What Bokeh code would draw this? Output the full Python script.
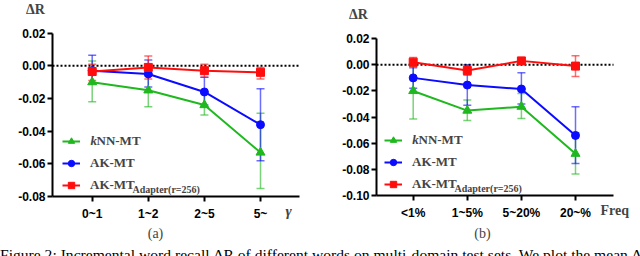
from bokeh.plotting import figure
from bokeh.layouts import row, column
from bokeh.models import (ColumnDataSource, Whisker, TeeHead, Legend, LegendItem,
                          Label, FixedTicker, NumeralTickFormatter, Div)
from bokeh.core.properties import value
from bokeh.embed import file_html
from bokeh.resources import INLINE

# ---------------- data ----------------
cats_a = ["0~1", "1~2", "2~5", "5~"]
knn_a = [-0.010, -0.015, -0.024, -0.053]
knn_a_lo = [-0.022, -0.025, -0.030, -0.075]
knn_a_hi = [0.003, -0.006, -0.017, -0.029]
ak_a = [-0.003, -0.005, -0.016, -0.036]
ak_a_lo = [-0.011, -0.013, -0.024, -0.058]
ak_a_hi = [0.0065, 0.0035, -0.007, -0.014]
ad_a = [-0.0035, -0.001, -0.003, -0.004]
ad_a_lo = [-0.009, -0.008, -0.007, -0.008]
ad_a_hi = [0.001, 0.006, 0.001, -0.001]
yticks_a = [-0.08, -0.06, -0.04, -0.02, 0.0, 0.02]

cats_b = ["<1%", "1~5%", "5~20%", "20~%"]
knn_b = [-0.020, -0.035, -0.032, -0.068]
knn_b_lo = [-0.0415, -0.0425, -0.041, -0.0835]
knn_b_hi = [-0.001, -0.027, -0.022, -0.052]
ak_b = [-0.010, -0.0155, -0.0185, -0.054]
ak_b_lo = [-0.018, -0.031, -0.030, -0.0755]
ak_b_hi = [-0.0023, 0.000, -0.006, -0.032]
ad_b = [0.002, -0.0044, 0.003, -0.001]
ad_b_lo = [-0.001, -0.008, 0.001, -0.009]
ad_b_hi = [0.0055, -0.001, 0.004, 0.007]
yticks_b = [-0.10, -0.08, -0.06, -0.04, -0.02, 0.0, 0.02]

series_names = ["kNN-MT", "AK-MT", "AK-MT"]
subscript = "Adapter(r=256)"
caption = ("Figure 2: Incremental word recall \u0394R of different words on multi-domain "
           "test sets. We plot the mean \u0394R")

GREEN = "#1fb81f"
BLUE = "#0b0bff"
RED = "#ff0d0d"
SANS = "Liberation Sans"
SERIF = "Liberation Serif"
H = 244


def make_panel(cats, series, yticks, x0px, dxpx, y0px, dypx, axis_left_px, axis_right_px,
               texts, legend_px, text_px, sub_px, width):
    # pixel -> data helpers (layout only)
    def X(px):
        return (px - x0px) / dxpx

    def Y(py):
        return (y0px - py) / dypx

    p = figure(width=width, height=H, x_range=(X(0), X(width)), y_range=(Y(H), Y(0)),
               output_backend="svg", toolbar_location=None, min_border=0,
               min_border_left=0, min_border_right=0, min_border_top=0, min_border_bottom=0)
    p.outline_line_color = None
    p.xgrid.visible = False
    p.ygrid.visible = False
    p.background_fill_color = "white"
    p.border_fill_color = "white"

    xs = list(range(len(cats)))
    ylo, yhi = min(yticks), max(yticks)
    xlo, xhi = X(axis_left_px), X(axis_right_px)

    p.xaxis.fixed_location = ylo
    p.yaxis.fixed_location = xlo
    p.xaxis.bounds = (xlo, xhi)
    p.yaxis.bounds = (ylo, yhi)
    p.xaxis.ticker = FixedTicker(ticks=xs)
    p.xaxis.major_label_overrides = {i: c for i, c in enumerate(cats)}
    p.yaxis.ticker = FixedTicker(ticks=yticks)
    p.yaxis.formatter = NumeralTickFormatter(format="0.00")
    for ax in (p.xaxis, p.yaxis):
        ax.axis_line_width = 2
        ax.major_tick_line_width = 2
        ax.major_tick_out = 5
        ax.major_tick_in = 0
        ax.minor_tick_line_color = None
        ax.major_label_text_font = SANS
        ax.major_label_text_font_style = "bold"
        ax.major_label_text_font_size = "12px"
        ax.major_label_text_color = "black"
        ax.axis_line_color = "black"
        ax.major_tick_line_color = "black"
    p.yaxis.major_label_standoff = 2
    p.xaxis.major_label_standoff = 5

    # dotted zero reference line between the axis bounds
    p.segment(x0=[xlo], x1=[xhi], y0=[0], y1=[0], line_color="black",
              line_width=2, line_dash="2 2")

    items = []
    for name, vals, lo, hi, color, marker, size in series:
        src = ColumnDataSource(dict(x=xs, y=vals, lo=lo, hi=hi))
        p.add_layout(Whisker(source=src, base="x", upper="hi", lower="lo",
                             dimension="height", line_color=color, line_alpha=0.6,
                             line_width=1.5,
                             upper_head=TeeHead(size=8, line_color=color, line_alpha=0.6, line_width=1.5),
                             lower_head=TeeHead(size=8, line_color=color, line_alpha=0.6, line_width=1.5)))
        lr = p.line("x", "y", source=src, line_color=color, line_width=2)
        sr = p.scatter("x", "y", source=src, marker=marker, size=size,
                       fill_color=color, line_color=color)
        items.append(LegendItem(label=value(name), renderers=[lr, sr]))

    leg = Legend(items=items, location=legend_px, background_fill_alpha=0,
                 border_line_color=None, padding=0, margin=0, spacing=6,
                 glyph_width=18, glyph_height=16, label_height=16, label_standoff=10,
                 label_text_font=SERIF, label_text_font_style="bold",
                 label_text_font_size="13px", label_text_baseline="middle")
    p.add_layout(leg)

    p.add_layout(Label(x=X(text_px[0]), y=Y(text_px[1]), text=series_names[0][0],
                       text_font=SERIF, text_font_style="bold italic", text_font_size="13px",
                       text_baseline="middle", text_align="left"))
    p.add_layout(Label(x=X(sub_px[0]), y=Y(sub_px[1]), text=subscript, text_font=SERIF,
                       text_font_style="bold", text_font_size="10px",
                       text_baseline="middle", text_align="left"))

    for (px, py, t, style, size, align) in texts:
        p.add_layout(Label(x=X(px), y=Y(py), text=t, text_font=SERIF, text_font_style=style,
                           text_font_size=size, text_baseline="middle", text_align=align))
    return p


# the italic "k" is drawn as its own text; the legend label keeps a matching gap
legend_first = "\u00a0\u00a0" + series_names[0][1:]
series_a = [
    (legend_first, knn_a, knn_a_lo, knn_a_hi, GREEN, "triangle", 9),
    (series_names[1], ak_a, ak_a_lo, ak_a_hi, BLUE, "circle", 8),
    (series_names[2], ad_a, ad_a_lo, ad_a_hi, RED, "square", 8),
]
series_b = [
    (legend_first, knn_b, knn_b_lo, knn_b_hi, GREEN, "triangle", 9),
    (series_names[1], ak_b, ak_b_lo, ak_b_hi, BLUE, "circle", 8),
    (series_names[2], ad_b, ad_b_lo, ad_b_hi, RED, "square", 8),
]

pa = make_panel(cats_a, series_a, yticks_a, 91.7, 56.1, 65.3, 1636, 52, 299,
                [(35, 9, "\u0394R", "bold", "14px", "center"),
                 (288, 210, "\u03b3", "bold italic", "15px", "center"),
                 (155, 233, "(a)", "normal", "14px", "center")],
                (62, H - 193), (90, 140), (132, 189), 320)

pb = make_panel(cats_b, series_b, yticks_b, 92.7, 54.1, 64.3, 1308, 56, 293,
                [(38, 14, "\u0394R", "bold", "14px", "center"),
                 (280, 210, "Freq", "bold", "14px", "left"),
                 (162, 233, "(b)", "normal", "14px", "center")],
                (64, H - 192), (91.7, 139), (134, 188), 320)

cap = Div(text=caption, width=640, height=12, margin=0,
          styles={"font-family": SERIF, "font-size": "15.6px", "line-height": "22px",
                  "white-space": "nowrap", "overflow": "hidden", "color": "black"})

layout = column(row(pa, pb), cap)
open("out.html", "w").write(file_html(layout, INLINE))
